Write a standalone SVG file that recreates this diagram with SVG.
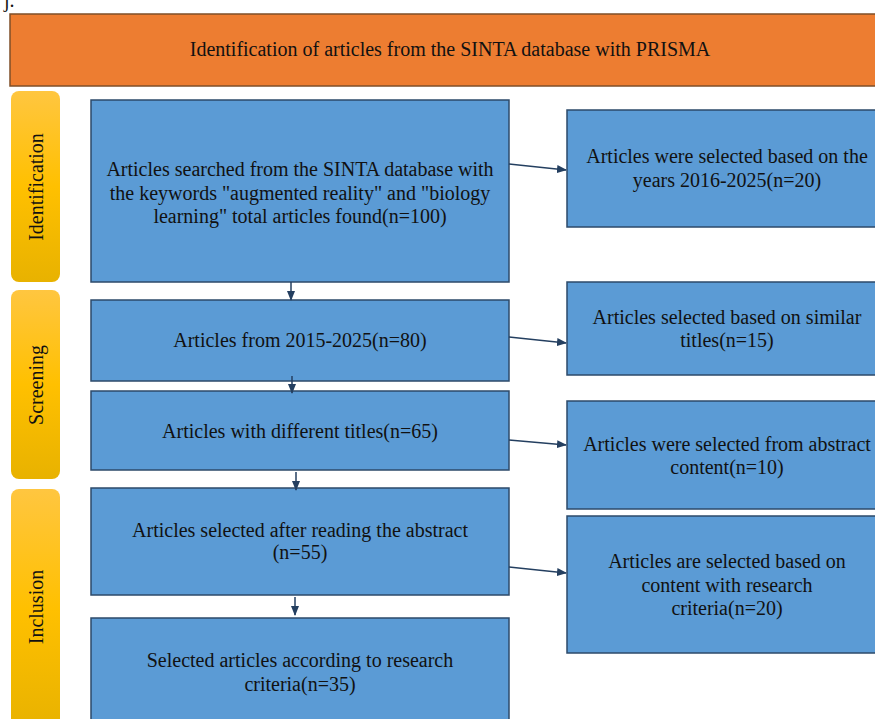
<svg xmlns="http://www.w3.org/2000/svg" width="875" height="719" viewBox="0 0 875 719">
<style>
text{font-family:"Liberation Serif","DejaVu Serif",serif;fill:#111;font-size:20px;text-anchor:middle}
.box{fill:#5B9BD5;stroke:#2C4A6A;stroke-width:1.5}
.side{fill:url(#yg)}
.conn line{stroke:#243F60;stroke-width:1.5;marker-end:url(#ah)}
</style>
<defs>
<linearGradient id="yg" x1="0" y1="0" x2="0" y2="1">
<stop offset="0" stop-color="#FFC640"/>
<stop offset="0.5" stop-color="#FFC000"/>
<stop offset="1" stop-color="#E8B200"/>
</linearGradient>
<marker id="ah" markerWidth="10" markerHeight="8" refX="9" refY="4" orient="auto" markerUnits="userSpaceOnUse">
<path d="M0,0 L10,4 L0,8 Z" fill="#243F60"/>
</marker>
</defs>
<rect width="875" height="719" fill="#fff"/>
<text x="4" y="7" style="text-anchor:start">j.</text>
<g id="header">
<rect x="10" y="14" width="880" height="72" fill="#ED7D31" stroke="#7F4F28" stroke-width="1.5"/>
<text x="450" y="56">Identification of articles from the SINTA database with PRISMA</text>
</g>
<g id="phase-identification">
<rect class="side" x="11" y="91" width="49" height="191" rx="8"/>
<text transform="translate(43,187) rotate(-90)">Identification</text>
</g>
<g id="phase-screening">
<rect class="side" x="11" y="290" width="49" height="189" rx="8"/>
<text transform="translate(43,385) rotate(-90)">Screening</text>
</g>
<g id="phase-inclusion">
<rect class="side" x="11" y="489" width="49" height="240" rx="8"/>
<text transform="translate(43,607) rotate(-90)">Inclusion</text>
</g>
<g id="n1">
<rect class="box" x="91" y="100" width="418" height="182"/>
<text x="300" y="176">Articles searched from the SINTA database with</text>
<text x="300" y="199.5">the keywords "augmented reality" and "biology</text>
<text x="300" y="223">learning" total articles found(n=100)</text>
</g>
<g id="n2">
<rect class="box" x="91" y="300" width="418" height="81"/>
<text x="300" y="347">Articles from 2015-2025(n=80)</text>
</g>
<g id="n3">
<rect class="box" x="91" y="391" width="418" height="79"/>
<text x="300" y="438">Articles with different titles(n=65)</text>
</g>
<g id="n4">
<rect class="box" x="91" y="488" width="418" height="107"/>
<text x="300" y="537">Articles selected after reading the abstract</text>
<text x="300" y="559">(n=55)</text>
</g>
<g id="n5">
<rect class="box" x="91" y="618" width="418" height="110"/>
<text x="300" y="667">Selected articles according to research</text>
<text x="300" y="691">criteria(n=35)</text>
</g>
<g id="r1">
<rect class="box" x="567" y="110" width="322" height="117"/>
<text x="727" y="163">Articles were selected based on the</text>
<text x="727" y="187">years 2016-2025(n=20)</text>
</g>
<g id="r2">
<rect class="box" x="567" y="282" width="322" height="93"/>
<text x="727" y="324">Articles selected based on similar</text>
<text x="727" y="347">titles(n=15)</text>
</g>
<g id="r3">
<rect class="box" x="567" y="401" width="322" height="108"/>
<text x="727" y="451">Articles were selected from abstract</text>
<text x="727" y="474">content(n=10)</text>
</g>
<g id="r4">
<rect class="box" x="567" y="516" width="322" height="137"/>
<text x="727" y="568">Articles are selected based on</text>
<text x="727" y="592">content with research</text>
<text x="727" y="615">criteria(n=20)</text>
</g>
<g id="connectors" class="conn">
<line x1="509" y1="164" x2="566" y2="170"/>
<line x1="509" y1="337" x2="566" y2="343"/>
<line x1="509" y1="440" x2="566" y2="445"/>
<line x1="509" y1="567" x2="566" y2="573"/>
<line x1="291" y1="282" x2="291" y2="300"/>
<line x1="292" y1="376" x2="292" y2="393"/>
<line x1="296" y1="472" x2="296" y2="490"/>
<line x1="295" y1="597" x2="295" y2="615"/>
</g>
</svg>
